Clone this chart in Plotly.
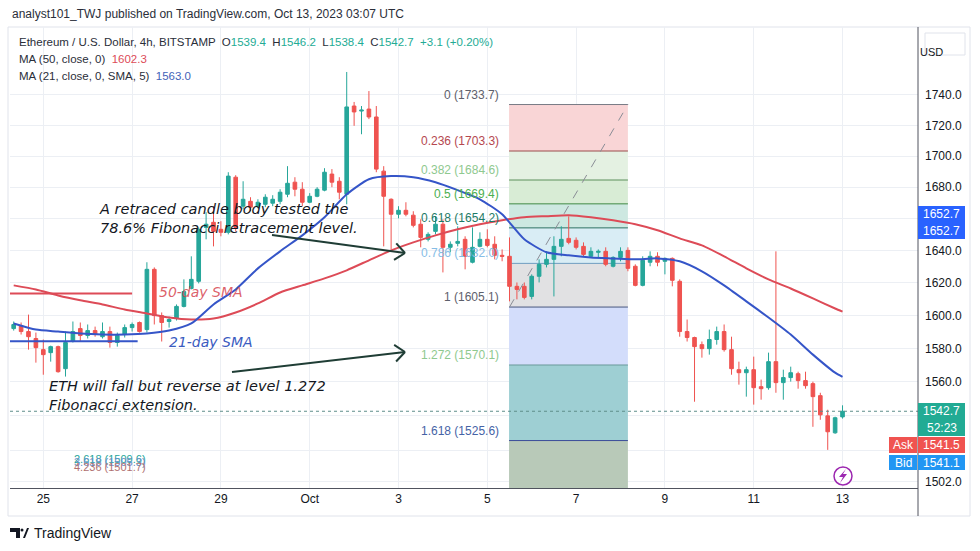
import numpy as np
import pandas as pd
import plotly.graph_objects as go

# ETH/USD 4h Kerzen
times = pd.date_range("2023-09-24 08:00", periods=113, freq="4h")

open_ = [1592.0, 1593.8, 1590.2, 1586.0, 1579.3, 1577.5, 1581.1, 1567.9, 1584.2, 1592.0,
         1587.8, 1590.8, 1587.1, 1590.2, 1583.6, 1588.4, 1592.6, 1595.7, 1591.4, 1628.3,
         1599.9, 1596.3, 1598.1, 1605.5, 1616.5, 1620.9, 1654.5, 1657.7, 1653.3, 1651.4,
         1686.4, 1667.9, 1671.0, 1667.9, 1669.1, 1669.8, 1671.0, 1675.5, 1683.2, 1678.7,
         1670.4, 1674.2, 1678.1, 1688.4, 1683.8, 1675.5, 1732.7, 1729.4, 1730.7, 1725.5,
         1690.3, 1672.3, 1662.8, 1665.3, 1662.2, 1656.5, 1647.0, 1652.0, 1656.5, 1642.0,
         1644.5, 1647.0, 1632.7, 1642.6, 1647.0, 1643.9, 1637.0, 1636.4, 1617.8, 1617.8,
         1611.6, 1624.0, 1631.4, 1634.5, 1642.6, 1647.6, 1646.4, 1642.6, 1636.4, 1638.9,
         1639.5, 1630.2, 1635.7, 1640.1, 1630.2, 1618.4, 1632.7, 1636.4, 1633.3, 1635.1,
         1620.9, 1590.2, 1586.6, 1582.3, 1579.9, 1585.4, 1590.2, 1579.3, 1567.3, 1565.5,
         1567.3, 1557.2, 1556.6, 1572.1, 1559.6, 1562.6, 1564.9, 1560.8, 1559.0, 1551.9,
         1540.0, 1530.1, 1539.4]
high = [1596.3, 1595.7, 1600.5, 1589.6, 1585.4, 1581.7, 1581.7, 1590.2, 1596.3, 1595.7,
        1594.5, 1593.2, 1595.7, 1593.2, 1589.6, 1594.5, 1595.7, 1596.3, 1632.7, 1629.5,
        1601.8, 1599.3, 1606.7, 1622.1, 1636.4, 1654.5, 1664.1, 1667.9, 1658.4, 1689.6,
        1687.7, 1683.8, 1673.6, 1672.3, 1675.5, 1674.9, 1678.7, 1693.5, 1686.4, 1683.2,
        1676.2, 1680.0, 1692.2, 1691.6, 1686.4, 1755.3, 1735.4, 1732.7, 1742.6, 1732.7,
        1693.5, 1672.9, 1667.9, 1670.4, 1664.7, 1659.6, 1651.4, 1661.5, 1659.6, 1645.7,
        1655.2, 1648.9, 1654.5, 1651.4, 1653.3, 1648.9, 1640.7, 1648.2, 1620.2, 1620.2,
        1625.2, 1634.5, 1639.5, 1648.9, 1655.2, 1661.5, 1648.2, 1645.1, 1642.0, 1640.7,
        1642.0, 1636.4, 1642.0, 1642.0, 1631.4, 1636.4, 1639.5, 1638.9, 1635.7, 1635.7,
        1622.1, 1597.5, 1587.1, 1584.2, 1591.4, 1593.2, 1594.5, 1587.1, 1572.1, 1569.1,
        1575.1, 1561.4, 1577.5, 1639.5, 1567.3, 1569.1, 1566.1, 1566.1, 1560.2, 1553.6,
        1543.6, 1539.5, 1546.2]
low = [1590.8, 1588.4, 1579.3, 1571.5, 1564.3, 1572.1, 1565.5, 1563.2, 1583.6, 1584.2,
       1586.0, 1587.1, 1586.0, 1580.5, 1581.1, 1586.6, 1590.2, 1589.6, 1589.6, 1594.5,
       1584.2, 1592.6, 1596.9, 1604.9, 1615.9, 1619.6, 1647.0, 1642.6, 1648.9, 1650.1,
       1652.0, 1666.0, 1664.7, 1666.6, 1667.3, 1667.9, 1669.1, 1673.6, 1674.2, 1667.9,
       1669.8, 1673.6, 1677.4, 1680.0, 1672.3, 1669.1, 1719.7, 1714.2, 1724.1, 1689.6,
       1642.6, 1640.7, 1660.2, 1661.5, 1654.5, 1642.0, 1645.7, 1650.1, 1626.4, 1638.9,
       1642.6, 1628.3, 1632.0, 1642.0, 1642.0, 1634.5, 1633.3, 1608.6, 1609.8, 1609.8,
       1609.8, 1620.2, 1629.5, 1611.6, 1636.4, 1643.9, 1640.7, 1636.4, 1635.7, 1635.7,
       1630.2, 1629.5, 1633.3, 1627.1, 1617.8, 1617.8, 1630.2, 1630.2, 1625.2, 1617.8,
       1587.1, 1584.2, 1548.3, 1574.5, 1576.3, 1582.3, 1578.1, 1564.3, 1558.4, 1551.3,
       1546.6, 1549.5, 1555.4, 1553.6, 1549.5, 1560.2, 1556.0, 1556.0, 1533.6, 1537.7,
       1520.2, 1529.5, 1538.4]
close = [1594.5, 1590.2, 1587.1, 1580.5, 1576.3, 1581.1, 1566.1, 1583.6, 1590.2, 1587.8,
         1590.8, 1588.4, 1590.2, 1583.6, 1587.8, 1592.6, 1594.5, 1590.2, 1628.3, 1599.9,
         1595.7, 1597.5, 1605.5, 1614.6, 1622.1, 1653.3, 1656.5, 1652.0, 1651.4, 1687.1,
         1654.5, 1672.3, 1667.3, 1670.4, 1673.6, 1672.3, 1676.8, 1682.5, 1678.7, 1670.4,
         1674.2, 1678.7, 1689.6, 1683.2, 1676.8, 1732.1, 1728.8, 1730.0, 1725.5, 1691.6,
         1674.2, 1662.8, 1665.3, 1662.8, 1655.8, 1648.2, 1650.1, 1656.5, 1642.0, 1643.9,
         1645.7, 1636.4, 1642.0, 1647.0, 1643.2, 1637.0, 1636.4, 1617.8, 1615.9, 1611.0,
         1624.0, 1631.4, 1634.5, 1642.6, 1647.0, 1645.1, 1642.0, 1637.6, 1639.5, 1639.5,
         1631.4, 1635.7, 1639.5, 1628.9, 1618.4, 1633.9, 1636.4, 1632.7, 1635.1, 1621.5,
         1590.2, 1586.6, 1581.1, 1579.9, 1585.4, 1590.2, 1579.3, 1567.9, 1565.5, 1567.3,
         1556.6, 1556.0, 1572.1, 1559.6, 1562.6, 1565.5, 1560.8, 1557.8, 1551.3, 1540.6,
         1530.7, 1538.9, 1542.7]

ma_times = list(pd.date_range("2023-09-24 08:00", periods=38, freq="12h")) + [pd.Timestamp("2023-10-13 00:00")]
ma50 = [1618.4, 1615.9, 1612.2, 1609.2, 1606.7, 1603.6, 1601.2, 1598.7, 1597.5, 1598.1,
        1601.8, 1607.3, 1614.0, 1618.4, 1622.7, 1627.7, 1633.9, 1640.1, 1645.1, 1649.5,
        1653.3, 1656.5, 1659.0, 1660.9, 1661.6, 1662.2, 1660.9, 1659.0, 1656.5, 1652.7,
        1647.6, 1643.2, 1636.4, 1628.9, 1622.1, 1616.5, 1610.4, 1604.2, 1602.3]
ma21 = [1595.1, 1591.4, 1590.2, 1589.0, 1588.4, 1588.4, 1589.0, 1590.8, 1595.1, 1606.7,
        1615.9, 1628.9, 1639.5, 1649.5, 1660.9, 1675.5, 1685.1, 1687.1, 1686.4, 1683.2,
        1678.1, 1672.3, 1662.8, 1647.0, 1638.9, 1637.0, 1635.7, 1635.1, 1634.5, 1635.1,
        1633.3, 1627.1, 1618.4, 1608.6, 1598.7, 1588.4, 1576.3, 1565.5, 1563.0]

# Fibonacci-Niveaus
fib_ratios = ["0", "0.236", "0.382", "0.5", "0.618", "0.786", "1", "1.272", "1.618"]
fib_prices = [1733.7, 1703.3, 1684.6, 1669.4, 1654.2, 1632.0, 1605.1, 1570.1, 1525.6]
fib_text_colors = ["#5d606b", "#b5484f", "#8fc98f", "#4caf50", "#1d7a66", "#86bde6", "#5d606b", "#8fc98f", "#4563a6"]
fib_line_colors = ["#787b86", "#9a4d4d", "#5c8f5c", "#3f8a42", "#2b6f60", "#6f9cc0", "#4a587f", "#6a9a9a", "#3a4c99"]
fib_fills = ["#f9d5d6", "#e4f1e2", "#d8ecd5", "#cde8e1", "#d9edf5", "#e1e1e3", "#d3ddfb", "#9ecfd3", "#b8c9b8"]

ytick_vals = [1502, 1520, 1540, 1560, 1580, 1600, 1620, 1640, 1660, 1680, 1700, 1720, 1740]
ytick_text = ["1502.0", "", "", "1560.0", "1580.0", "1600.0", "1620.0", "1640.0", "", "1680.0", "1700.0", "1720.0", "1740.0"]
xtick_vals = ["2023-09-25", "2023-09-27", "2023-09-29", "2023-10-01", "2023-10-03",
              "2023-10-05", "2023-10-07", "2023-10-09", "2023-10-11", "2023-10-13"]
xtick_text = ["25", "27", "29", "Oct", "3", "5", "7", "9", "11", "13"]

UI = "Liberation Sans"
ITAL = "DejaVu Sans"


# Pixel -> Papier (Plotbereich 10..918 x 27..488)
def px(x):
    return (x - 10) / 908


def py(y):
    return (488 - y) / 461


fig = go.Figure()

fig.add_trace(go.Candlestick(
    x=times, open=open_, high=high, low=low, close=close,
    increasing=dict(line=dict(color="#26a69a", width=1), fillcolor="#26a69a"),
    decreasing=dict(line=dict(color="#ef5350", width=1), fillcolor="#ef5350"),
    whiskerwidth=0, showlegend=False, hoverinfo="skip"
))
fig.add_trace(go.Scatter(x=ma_times, y=ma50, mode="lines", line=dict(color="#dd4b57", width=2, shape="spline", smoothing=0.6),
                         showlegend=False, hoverinfo="skip"))
fig.add_trace(go.Scatter(x=ma_times, y=ma21, mode="lines", line=dict(color="#3555c8", width=2, shape="spline", smoothing=0.6),
                         showlegend=False, hoverinfo="skip"))

shapes = []
annos = []

# Fibonacci-Box
fx0, fx1 = "2023-10-05 11:45", "2023-10-08 04:00"
bounds = fib_prices + [1480]
for i in range(len(fib_prices)):
    shapes.append(dict(type="rect", xref="x", yref="y", x0=fx0, x1=fx1, y0=bounds[i + 1], y1=bounds[i],
                       fillcolor=fib_fills[i], line=dict(width=0), layer="between"))
for i, p in enumerate(fib_prices):
    shapes.append(dict(type="line", xref="x", yref="y", x0=fx0, x1=fx1, y0=p, y1=p,
                       line=dict(color=fib_line_colors[i], width=1), layer="between"))
    annos.append(dict(xref="x", yref="y", x=fx0, y=np.log10(p), xanchor="right", yanchor="bottom",
                      xshift=-8, yshift=1, showarrow=False, text=f"{fib_ratios[i]} ({p:.1f})",
                      font=dict(family=UI, size=12, color=fib_text_colors[i])))
shapes.append(dict(type="line", xref="x", yref="y", x0="2023-10-05 12:00", y0=fib_prices[6],
                   x1=fx1, y1=fib_prices[0], line=dict(color="#8a8d96", width=1, dash="dash"), layer="between"))

# horizontale Linien der Beschriftung
shapes.append(dict(type="line", xref="x", yref="y", x0="2023-09-24 00:00", x1="2023-09-27 00:00",
                   y0=1613.4, y1=1613.4, line=dict(color="#dd4b57", width=2)))
shapes.append(dict(type="line", xref="x", yref="y", x0="2023-09-24 00:00", x1="2023-09-27 03:00",
                   y0=1584.4, y1=1584.4, line=dict(color="#3555c8", width=2)))

# aktuelle Kurslinie
shapes.append(dict(type="line", xref="paper", yref="y", x0=0, x1=1, y0=close[-1], y1=close[-1],
                   line=dict(color="#5f8f8a", width=1, dash="dot")))

# Pfeile
def arrow(pts, color="#1f3d35"):
    x0, y0, x1, y1 = pts
    shapes.append(dict(type="line", xref="paper", yref="paper", x0=px(x0), y0=py(y0), x1=px(x1), y1=py(y1),
                       line=dict(color=color, width=2)))
    v = np.array([x0 - x1, y0 - y1], dtype=float)
    v /= np.hypot(*v)
    for a in (0.7, -0.7):
        r = np.array([v[0] * np.cos(a) - v[1] * np.sin(a), v[0] * np.sin(a) + v[1] * np.cos(a)]) * 13
        shapes.append(dict(type="line", xref="paper", yref="paper", x0=px(x1), y0=py(y1),
                           x1=px(x1 + r[0]), y1=py(y1 + r[1]), line=dict(color=color, width=2)))


arrow((272, 235, 405, 253))
arrow((232, 372, 405, 352))

# Rahmen
shapes.append(dict(type="rect", xref="paper", yref="paper", x0=px(8), x1=px(970), y0=py(516), y1=py(27),
                   line=dict(color="#e0e3eb", width=1), layer="below"))
shapes.append(dict(type="line", xref="paper", yref="paper", x0=px(918), x1=px(918), y0=py(516), y1=py(27),
                   line=dict(color="#50535e", width=1)))

# Preisschilder rechts
def label_box(x0, y0, x1, y1, color, lines, txtcolor="white"):
    shapes.append(dict(type="rect", xref="paper", yref="paper", x0=px(x0), x1=px(x1), y0=py(y1), y1=py(y0),
                       fillcolor=color, line=dict(width=0)))
    n = len(lines)
    for k, t in enumerate(lines):
        yc = y0 + (y1 - y0) * (k + 0.5) / n
        annos.append(dict(xref="paper", yref="paper", x=px((x0 + x1) / 2), y=py(yc), text=t, showarrow=False,
                          xanchor="center", yanchor="middle", font=dict(family=UI, size=12, color=txtcolor)))


shapes.append(dict(type="rect", xref="paper", yref="paper", x0=px(925), x1=px(965), y0=py(55), y1=py(33),
                   fillcolor="white", line=dict(color="#e0e3eb", width=1)))
annos.append(dict(xref="paper", yref="paper", x=px(945), y=py(44), text="USD", showarrow=False,
                  font=dict(family=UI, size=11, color="#131722")))
label_box(918, 206, 965, 239, "#2962ff", ["1652.7", "1652.7"])
label_box(918, 403, 965, 436, "#22ab94", ["1542.7", "52:23"])
label_box(889, 437, 917, 453, "#f05350", ["Ask"])
label_box(918, 437, 965, 453, "#f05350", ["1541.5"])
label_box(889, 455, 917, 470, "#2196f3", ["Bid"])
label_box(918, 455, 965, 470, "#2196f3", ["1541.1"])

# Blitz-Symbol
shapes.append(dict(type="circle", xref="paper", yref="paper", x0=px(834), x1=px(852), y0=py(485), y1=py(467),
                   fillcolor="white", line=dict(color="#9c27b0", width=1.5)))
bolt = [(846, 469), (839, 477), (843, 477), (840, 483), (847, 474), (843, 474)]
shapes.append(dict(type="path", xref="paper", yref="paper",
                   path="M " + " L ".join(f"{px(a):.5f},{py(b):.5f}" for a, b in bolt) + " Z",
                   fillcolor="#9c27b0", line=dict(width=0)))

# TradingView Logo
logo = [(10, 528), (20, 528), (20, 538), (16, 538), (16, 532), (10, 532)]
shapes.append(dict(type="path", xref="paper", yref="paper",
                   path="M " + " L ".join(f"{px(a):.5f},{py(b):.5f}" for a, b in logo) + " Z",
                   fillcolor="#131722", line=dict(width=0)))
tri = [(23, 538), (27, 528), (29, 528), (25, 538)]
shapes.append(dict(type="path", xref="paper", yref="paper",
                   path="M " + " L ".join(f"{px(a):.5f},{py(b):.5f}" for a, b in tri) + " Z",
                   fillcolor="#131722", line=dict(width=0)))
shapes.append(dict(type="circle", xref="paper", yref="paper", x0=px(20.5), x1=px(23.5), y0=py(531.5), y1=py(528.5),
                   fillcolor="#131722", line=dict(width=0)))


def txt(x, y, text, size=12, color="#131722", family=UI, anchor="left"):
    annos.append(dict(xref="paper", yref="paper", x=px(x), y=py(y), text=text, showarrow=False,
                      xanchor=anchor, yanchor="middle", align="left", font=dict(family=family, size=size, color=color)))


teal = "#22ab94"
txt(10, 14, "analyst101_TWJ published on TradingView.com, Oct 13, 2023 03:07 UTC", size=12, color="#2a2e39")
txt(17, 42, "Ethereum / U.S. Dollar, 4h, BITSTAMP  "
    f"O<span style='color:{teal}'>1539.4</span>  H<span style='color:{teal}'>1546.2</span>  "
    f"L<span style='color:{teal}'>1538.4</span>  C<span style='color:{teal}'>1542.7</span>  "
    f"<span style='color:{teal}'>+3.1 (+0.20%)</span>", size=11.5, color="#2a2e39")
txt(17, 59, "MA (50, close, 0)  <span style='color:#dd4b57'>1602.3</span>", size=11.5, color="#2a2e39")
txt(17, 76, "MA (21, close, 0, SMA, 5)  <span style='color:#3f63b8'>1563.0</span>", size=11.5, color="#2a2e39")
txt(32, 533, "TradingView", size=14, color="#131722")

# Fib-Extension-Reste unten links (im Original übereinander)
txt(148, 459, "2.618 (1509.6)", size=11, color="#26a69a", anchor="right")
txt(148, 462, "3.618 (1505.3)", size=11, color="#6a8fc9", anchor="right")
txt(148, 467, "4.236 (1501.7)", size=11, color="#b07070", anchor="right")

# Textzeichnungen
txt(97, 218.5, "<i>A retraced candle body tested the<br>78.6% Fibonacci retracement level.</i>", size=14.5, color="#131722", family=ITAL)
txt(47, 395.5, "<i>ETH will fall but reverse at level 1.272<br>Fibonacci extension.</i>", size=14.5, color="#131722", family=ITAL)
txt(157, 292, "<i>50-day SMA</i>", size=14, color="rgba(214,69,80,0.85)", family=ITAL)
txt(167, 342, "<i>21-day SMA</i>", size=14, color="#3a5bbf", family=ITAL)

fig.update_layout(
    width=980, height=551,
    margin=dict(l=10, r=62, t=27, b=63),
    paper_bgcolor="white", plot_bgcolor="white",
    showlegend=False,
    shapes=shapes, annotations=annos,
    xaxis=dict(type="date", range=["2023-09-24 06:00", "2023-10-14 16:48"], rangeslider=dict(visible=False),
               tickmode="array", tickvals=xtick_vals, ticktext=xtick_text,
               showgrid=True, gridcolor="#eceff4", showline=True, linecolor="#50535e", linewidth=1,
               ticks="", zeroline=False, tickfont=dict(family=UI, size=12, color="#131722")),
    yaxis=dict(type="log", side="right", range=[np.log10(1498.3), np.log10(1785.6)],
               tickmode="array", tickvals=ytick_vals, ticktext=ytick_text,
               showgrid=True, gridcolor="#eceff4", showline=False, ticks="", zeroline=False,
               ticklabelstandoff=6, tickfont=dict(family=UI, size=12, color="#131722")),
)

fig.write_html("out.html", config={"displayModeBar": False},
               post_script="document.body.style.margin='0px';")
